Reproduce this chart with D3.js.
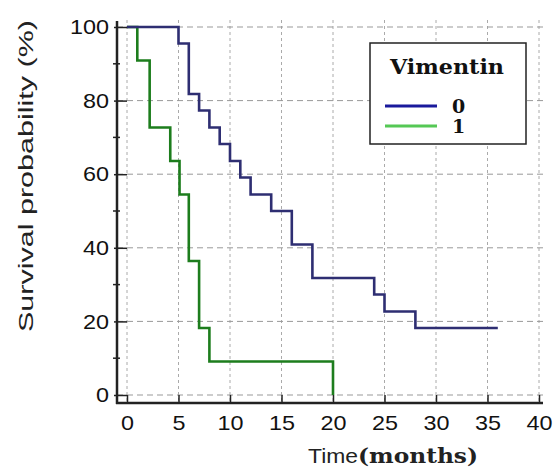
<!DOCTYPE html>
<html>
<head>
<meta charset="utf-8">
<script src="https://cdn.jsdelivr.net/npm/d3@7"></script>
<style>
  body { margin: 0; background: #fff; }
  svg { display: block; }
</style>
</head>
<body>
<div id="chart"></div>
<script>
// datos
const times0 = [0, 5, 6, 7, 8, 9, 10, 11, 12, 14, 16, 18, 24, 25, 28, 36]
const surv0 = [100, 95.5, 81.8, 77.3, 72.7, 68.2, 63.6, 59.1, 54.5, 50, 40.9, 31.8, 27.3, 22.7, 18.2, 18.2]
const times1 = [0, 1, 2.2, 4.2, 5.1, 6, 7, 8, 20]
const surv1 = [100, 90.9, 72.7, 63.6, 54.5, 36.4, 18.2, 9.1, 0]
const groups = ["0", "1"]
const xTicks = [0, 5, 10, 15, 20, 25, 30, 35, 40]
const yTicks = [0, 20, 40, 60, 80, 100]
const yMinor = [10, 30, 50, 70, 90]

const width = 554
const height = 468
const lineColors = ["#2e2e72", "#1d7d1d"]
const legendColors = ["#1a1a9c", "#55c855"]
const digitW = 13  // los numeros del original salen algo estirados

const svg = d3.select("#chart").append("svg").attr("width", width).attr("height", height)

const x = d3.scaleLinear().domain([0, 40]).range([127, 539])
const y = d3.scaleLinear().domain([0, 100]).range([395, 27])
const axisX = 117
const axisY = 403

// grid
const grid = svg.append("g")
grid.selectAll(".vg").data(xTicks).enter().append("line")
    .attr("x1", d => x(d)).attr("x2", d => x(d))
    .attr("y1", 20).attr("y2", axisY)
    .attr("stroke", "#aaa").attr("stroke-width", 1).attr("stroke-dasharray", "3,3")
grid.selectAll(".hg").data(yTicks).enter().append("line")
    .attr("x1", axisX).attr("x2", 543)
    .attr("y1", d => y(d)).attr("y2", d => y(d))
    .attr("stroke", "#999").attr("stroke-width", 1).attr("stroke-dasharray", "6,4")

// curvas
const line = d3.line().x(d => x(d[0])).y(d => y(d[1])).curve(d3.curveStepAfter)
const series = [d3.zip(times1, surv1), d3.zip(times0, surv0)]
svg.selectAll(".km").data(series).enter().append("path")
    .attr("d", d => line(d))
    .attr("fill", "none")
    .attr("stroke", (d, i) => i === 0 ? lineColors[1] : lineColors[0])
    .attr("stroke-width", 2.6)

// ejes
const yAxisG = svg.append("g").attr("transform", `translate(${axisX},0)`)
yAxisG.call(d3.axisLeft(y).tickValues(yTicks).tickSize(-10).tickPadding(12).tickFormat(d3.format("d")))
yAxisG.select(".domain").remove()
yAxisG.selectAll(".tick line").attr("stroke", "#222").attr("stroke-width", 1.5)
yAxisG.selectAll(".tick").append("line").attr("x1", -3).attr("x2", 0).attr("stroke", "#222").attr("stroke-width", 1.5)
yAxisG.selectAll(".tick text").attr("font-family", "Liberation Sans, Arial, sans-serif").attr("font-size", 21).attr("fill", "#111").attr("x", -8)
    .attr("textLength", d => String(d).length * digitW).attr("lengthAdjust", "spacingAndGlyphs")
yAxisG.selectAll(".minor").data(yMinor).enter().append("line")
    .attr("x1", -4).attr("x2", 3).attr("y1", d => y(d)).attr("y2", d => y(d))
    .attr("stroke", "#222").attr("stroke-width", 1.5)
yAxisG.append("line").attr("x1", 0).attr("x2", 0).attr("y1", 21).attr("y2", axisY + 1)
    .attr("stroke", "#222").attr("stroke-width", 2.5)

const xAxisG = svg.append("g").attr("transform", `translate(0,${axisY})`)
xAxisG.call(d3.axisBottom(x).tickValues(xTicks).tickSize(-8).tickPadding(0))
xAxisG.select(".domain").remove()
xAxisG.selectAll(".tick line").attr("stroke", "#222").attr("stroke-width", 1.5)
xAxisG.selectAll(".tick text").attr("font-family", "Liberation Sans, Arial, sans-serif").attr("font-size", 21).attr("fill", "#111")
    .attr("y", 27).attr("dy", 0)
    .attr("textLength", d => String(d).length * digitW).attr("lengthAdjust", "spacingAndGlyphs")
xAxisG.append("line").attr("x1", axisX - 1).attr("x2", 543).attr("y1", 0).attr("y2", 0)
    .attr("stroke", "#222").attr("stroke-width", 2.5)

// titulos
svg.append("text")
    .attr("transform", "translate(33,176) rotate(-90)")
    .attr("text-anchor", "middle")
    .attr("font-family", "Liberation Sans, Arial, sans-serif").attr("font-size", 20).attr("fill", "#222")
    .attr("textLength", 312).attr("lengthAdjust", "spacingAndGlyphs")
    .text("Survival probability (%)")
svg.append("text")
    .attr("x", 308).attr("y", 463)
    .attr("font-family", "Liberation Sans, Arial, sans-serif").attr("font-size", 21).attr("fill", "#222")
    .attr("textLength", 50).attr("lengthAdjust", "spacingAndGlyphs")
    .text("Time")
svg.append("text")
    .attr("x", 358).attr("y", 463)
    .attr("font-family", "DejaVu Serif, serif").attr("font-weight", "bold").attr("font-size", 20).attr("fill", "#222")
    .attr("textLength", 120).attr("lengthAdjust", "spacingAndGlyphs")
    .text("(months)")

// leyenda
const legend = svg.append("g")
legend.append("rect").attr("x", 370).attr("y", 43).attr("width", 156).attr("height", 101)
    .attr("fill", "#fff").attr("stroke", "#222").attr("stroke-width", 1.5)
legend.append("text").attr("x", 390).attr("y", 74)
    .attr("font-family", "DejaVu Serif, serif").attr("font-weight", "bold").attr("font-size", 21).attr("fill", "#111")
    .attr("textLength", 114).attr("lengthAdjust", "spacingAndGlyphs")
    .text("Vimentin")
const items = legend.selectAll(".item").data(groups).enter().append("g")
    .attr("transform", (d, i) => `translate(0,${106 + i * 20})`)
items.append("line").attr("x1", 385).attr("x2", 437).attr("y1", 0).attr("y2", 0)
    .attr("stroke", (d, i) => legendColors[i]).attr("stroke-width", 3)
items.append("text").attr("x", 452).attr("y", 7)
    .attr("font-family", "DejaVu Serif, serif").attr("font-weight", "bold").attr("font-size", 19).attr("fill", "#111")
    .text(d => d)
</script>
</body>
</html>
